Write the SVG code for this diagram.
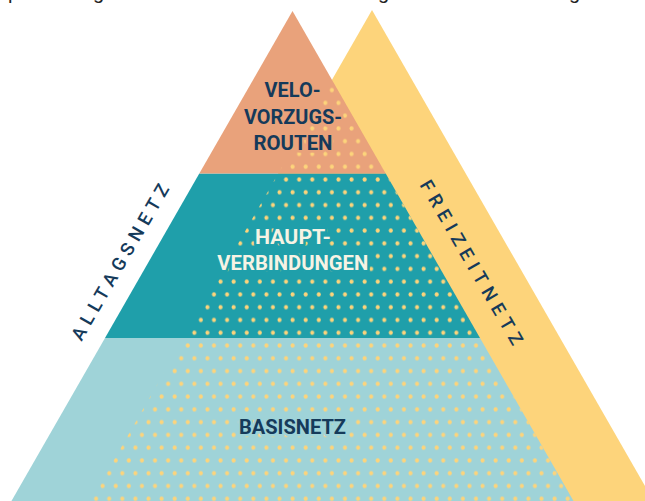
<svg xmlns="http://www.w3.org/2000/svg" width="645" height="501" viewBox="0 0 645 501">
  <defs>
    <pattern id="dots" patternUnits="userSpaceOnUse" x="0" y="-5.675" width="13.1" height="25.54">
      <ellipse cx="10.95" cy="6.385" rx="2" ry="2.3" fill="#fdd47b"/>
      <ellipse cx="4.4" cy="19.155" rx="2" ry="2.3" fill="#fdd47b"/>
    </pattern>
    <clipPath id="pyramidClip">
      <polygon points="292.5,11 578.7,510 6.3,510"/>
    </clipPath>
    <style>
      .lbl { font-family: Roboto, "DejaVu Sans", sans-serif; font-weight: 700; font-size: 21px; text-anchor: middle; paint-order: stroke; stroke-width: 5; stroke-linejoin: round; }
      .navy { fill: #153a5a; }
      .cream { fill: #f6f3e4; }
      .side { font-family: Roboto, "DejaVu Sans", sans-serif; font-weight: 500; font-size: 18.5px; fill: #153a5a; text-anchor: middle; }
      .frag { font-family: "Liberation Sans", Arial, sans-serif; font-size: 20px; fill: #222; }
    </style>
  </defs>
  <rect width="645" height="501" fill="#ffffff"/>

  <g id="caption-fragments">
    <text class="frag" x="8" y="-1">p</text>
    <text class="frag" x="93" y="-1">g</text>
    <text class="frag" x="378" y="-1">g</text>
    <text class="frag" x="569" y="-1">g</text>
  </g>

  <g id="freizeitnetz">
    <polygon points="372,10 658.75,510 85.25,510" fill="#fdd47b"/>
  </g>

  <g id="basisnetz-band">
    <polygon points="105,338 480,338 578.7,510 6.3,510" fill="#9fd3d8"/>
  </g>
  <g id="hauptverbindungen-band">
    <polygon points="199.3,173.5 385.7,173.5 480,338 105,338" fill="#1f9faa"/>
  </g>
  <g id="velovorzugsrouten-band">
    <polygon points="292.5,11 385.7,173.5 199.3,173.5" fill="#e9a27b"/>
  </g>

  <g id="overlap-dots" clip-path="url(#pyramidClip)">
    <polygon points="372,10 658.75,510 85.25,510" fill="url(#dots)"/>
  </g>

  <g id="velovorzugsrouten">
    <text class="lbl navy" stroke="#e9a27b" x="292.5" y="97" textLength="56" lengthAdjust="spacingAndGlyphs">VELO-</text>
    <text class="lbl navy" stroke="#e9a27b" x="293" y="123.5" textLength="98" lengthAdjust="spacingAndGlyphs">VORZUGS-</text>
    <text class="lbl navy" stroke="#e9a27b" x="293" y="150" textLength="79" lengthAdjust="spacingAndGlyphs">ROUTEN</text>
  </g>
  <g id="hauptverbindungen">
    <text class="lbl cream" stroke="#1f9faa" x="293" y="244" textLength="76" lengthAdjust="spacingAndGlyphs">HAUPT-</text>
    <text class="lbl cream" stroke="#1f9faa" x="292.8" y="270" textLength="151" lengthAdjust="spacingAndGlyphs">VERBINDUNGEN</text>
  </g>
  <g id="basisnetz">
    <text class="lbl navy" stroke="#9fd3d8" x="292.5" y="434.3" textLength="107" lengthAdjust="spacingAndGlyphs">BASISNETZ</text>
  </g>

  <g id="alltagsnetz">
    <text class="side" transform="translate(120,262) rotate(-60)" x="0" y="6.5" textLength="177" lengthAdjust="spacing">ALLTAGSNETZ</text>
  </g>
  <g id="freizeitnetz-label">
    <text class="side" transform="translate(471.7,262.5) rotate(60)" x="0" y="6.5" textLength="187" lengthAdjust="spacing">FREIZEITNETZ</text>
  </g>

  <g id="connectors"/>
</svg>
